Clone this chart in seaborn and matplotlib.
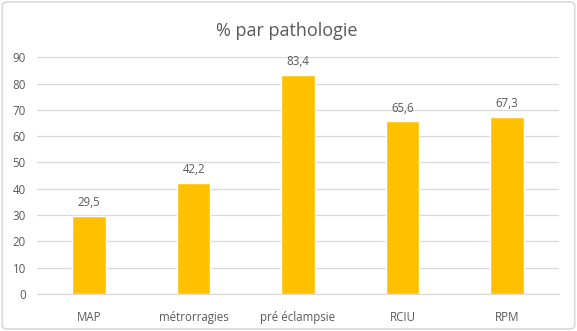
import matplotlib
matplotlib.use("Agg")
import matplotlib.pyplot as plt
from matplotlib.patches import FancyBboxPatch
import seaborn as sns
import pandas as pd

categories = ["MAP", "métrorragies", "pré éclampsie", "RCIU", "RPM"]
values = [29.5, 42.2, 83.4, 65.6, 67.3]
yticks = [0, 10, 20, 30, 40, 50, 60, 70, 80, 90]

df = pd.DataFrame({"pathologie": categories, "pct": values})

sns.set_theme(style="white")
plt.rcParams["font.family"] = ["Open Sans", "DejaVu Sans"]

text_grey = "#595959"
grid_grey = "#D9D9D9"

fig = plt.figure(figsize=(5.77, 3.31), dpi=100)
ax = fig.add_axes([0.0641, 0.1118, 0.9047, 0.7151])

sns.barplot(data=df, x="pathologie", y="pct", color="#FFC000",
            width=0.32, saturation=1, ax=ax, zorder=3)

ax.set_ylim(0, 90)
ax.set_yticks(yticks)
ax.set_yticklabels([str(t) for t in yticks])
ax.set_xlim(-0.5, len(categories) - 0.5)
ax.yaxis.grid(True, color=grid_grey, linewidth=0.9, zorder=0)
ax.set_axisbelow(True)
for side in ["top", "right", "left"]:
    ax.spines[side].set_visible(False)
ax.spines["bottom"].set_color(grid_grey)
ax.spines["bottom"].set_linewidth(0.9)
ax.tick_params(axis="both", length=0, colors=text_grey, labelsize=8.3)
ax.tick_params(axis="y", pad=8)
ax.tick_params(axis="x", pad=12)
ax.set_xlabel("")
ax.set_ylabel("")

for i, v in enumerate(values):
    ax.annotate(f"{v:.1f}".replace(".", ","), (i, v), xytext=(0, 5),
                textcoords="offset points", ha="center", va="bottom",
                fontsize=8.3, color=text_grey)

fig.text(0.497, 0.905, "% par pathologie", ha="center", va="center",
         fontsize=13, color=text_grey)

border = FancyBboxPatch((0.004, 0.006), 0.992, 0.988,
                        boxstyle="round,pad=0,rounding_size=0.01",
                        transform=fig.transFigure, fill=False,
                        edgecolor=grid_grey, linewidth=1.2)
fig.patches.append(border)

fig.savefig("out.png", dpi=100)
